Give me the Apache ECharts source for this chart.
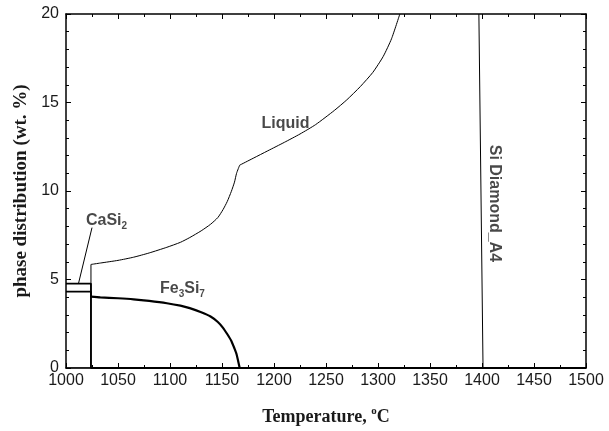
<!DOCTYPE html>
<html><head><meta charset="utf-8">
<script src="https://cdn.jsdelivr.net/npm/echarts@6/dist/echarts.min.js"></script>
<style>html,body{margin:0;padding:0;background:#fff}#c{width:609px;height:431px}</style>
</head><body><div id="c"></div>
<script>
// Data (temperature in °C, phase distribution in wt.%)
const liquidStep = [[1000,0],[1024,0],[1024,5.85]];
const liquidLow = [[1024,5.85],[1033,5.93],[1050,6.08],[1065,6.26],[1080,6.5],[1097,6.82],[1110,7.1],[1119,7.37],[1130,7.75],[1139,8.12],[1146,8.5],[1151,8.95],[1155,9.4],[1159,9.98],[1162,10.5],[1164,11.0],[1167,11.46]];
const liquidHigh = [[1167,11.46],[1180,11.85],[1194,12.27],[1210,12.75],[1225,13.22],[1240,13.75],[1258,14.55],[1270,15.15],[1283,15.9],[1295,16.7],[1305,17.6],[1313,18.6],[1321,20]];
const fe3si7Step = [[1000,4.31],[1024,4.31],[1024,4.03]];
const fe3si7 = [[1024,4.03],[1033,3.99],[1050,3.94],[1065,3.88],[1080,3.79],[1097,3.66],[1110,3.52],[1119,3.38],[1130,3.15],[1139,2.91],[1146,2.6],[1151,2.27],[1155,1.92],[1159,1.53],[1162,1.1],[1164,0.78],[1167,0]];
const casi2 = [[1000,4.77],[1024,4.77],[1024,0],[1500,0]];
const siDiamond = [[1397,20],[1401,0]];
const casi2Leader = [[1012,4.77],[1025,7.93]];
const xTicks = {min:1000, max:1500, interval:50};
const yTicks = {min:0, max:20, interval:5};
const annotations = [
  {name:'{b|Liquid}', value:[1211,13.8], rotate:0},
  {name:'{b|CaSi}{s|2}', value:[1039,8.3], rotate:0},
  {name:'{b|Fe}{s|3}{b|Si}{s|7}', value:[1112,4.46], rotate:0},
  {name:'{b|Si Diamond_A4}', value:[1411.5,9.3], rotate:-90}
];

const chart = echarts.init(document.getElementById('c'), null, {renderer:'canvas'});
const axisCommon = {
  type:'value',
  axisLine:{show:true, onZero:false, lineStyle:{color:'#000', width:1.5}},
  axisTick:{show:true, inside:true, length:5, lineStyle:{color:'#000', width:1}},
  minorTick:{show:true, length:3, lineStyle:{color:'#000', width:1}},
  splitLine:{show:false}
};
const sans = 'Liberation Sans, Arial, Helvetica, sans-serif';
const serif = 'Liberation Serif, Times New Roman, serif';
const richLabel = {
  b:{fontFamily:sans, fontWeight:'bold', fontSize:16, color:'#1a1a1a', lineHeight:20},
  s:{fontFamily:sans, fontWeight:'bold', fontSize:10, color:'#1a1a1a', lineHeight:10, verticalAlign:'bottom'}
};
const lineSeries = (data, w, smooth) => ({
  type:'line', data, showSymbol:false, symbol:'none', smooth:smooth || false, clip:true,
  lineStyle:{color:'#000', width:w}, animation:false, silent:true
});
chart.setOption({
  animation:false,
  backgroundColor:'#fff',
  grid:{left:66, right:23, top:14, bottom:57},
  xAxis:[
    Object.assign({}, axisCommon, xTicks, {
      position:'bottom',
      minorTick:Object.assign({}, axisCommon.minorTick, {splitNumber:2}),
      axisLabel:{color:'#1a1a1a', fontSize:16, fontFamily:sans, margin:5, formatter:v => String(v)},
      name:'{t|Temperature, }{o|o}{t|C}', nameLocation:'middle', nameGap:38,
      nameTextStyle:{rich:{
        t:{fontFamily:serif, fontWeight:'bold', fontSize:18, color:'#1a1a1a', lineHeight:22},
        o:{fontFamily:serif, fontWeight:'bold', fontSize:11, color:'#1a1a1a', lineHeight:11, verticalAlign:'top'}
      }}
    }),
    Object.assign({}, axisCommon, xTicks, {
      position:'top',
      minorTick:Object.assign({}, axisCommon.minorTick, {splitNumber:2}),
      axisLabel:{show:false}
    })
  ],
  yAxis:[
    Object.assign({}, axisCommon, yTicks, {
      position:'left',
      minorTick:Object.assign({}, axisCommon.minorTick, {splitNumber:5}),
      axisLabel:{color:'#1a1a1a', fontSize:16, fontFamily:sans, margin:7, formatter:v => String(v)},
      name:'phase distribution (wt. %)', nameLocation:'middle', nameGap:34, nameRotate:90,
      nameTextStyle:{fontFamily:serif, fontWeight:'bold', fontSize:19, color:'#1a1a1a'}
    }),
    Object.assign({}, axisCommon, yTicks, {
      position:'right',
      minorTick:Object.assign({}, axisCommon.minorTick, {splitNumber:5}),
      axisLabel:{show:false}
    })
  ],
  series:[
    lineSeries(liquidStep, 1),
    lineSeries(liquidLow, 1, 0.2),
    lineSeries(liquidHigh, 1, 0.2),
    lineSeries(casi2, 1.8),
    lineSeries(fe3si7Step, 1.8),
    lineSeries(fe3si7, 2.2, 0.2),
    lineSeries(siDiamond, 1),
    lineSeries(casi2Leader, 1),
    {
      type:'scatter', symbolSize:0, silent:true, animation:false,
      data:annotations.map(a => ({name:a.name, value:a.value, label:{rotate:a.rotate}})),
      label:{show:true, position:'inside', formatter:p => p.name, rich:richLabel}
    }
  ]
});
</script></body></html>
